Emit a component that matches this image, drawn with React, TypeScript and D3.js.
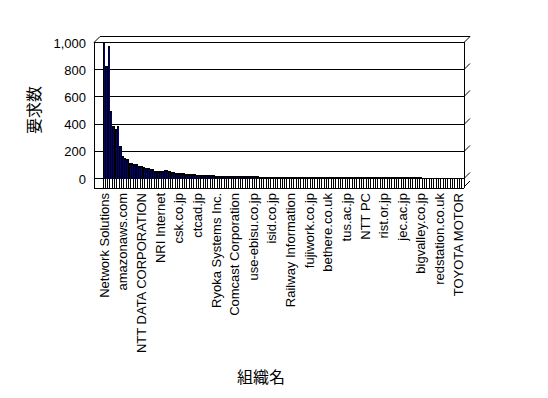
import { useEffect, useRef } from "react";
import * as d3 from "d3";

// organisation names that are printed (every 8th bar)
const orgLabels = [
    "Network Solutions", "amazonaws.com", "NTT DATA CORPORATION", "NRI Internet",
    "csk.co.jp", "ctcad.jp", "Ryoka Systems Inc.", "Comcast Corporation",
    "use-ebisu.co.jp", "isid.co.jp", "Railway Information", "fujiwork.co.jp",
    "bethere.co.uk", "tus.ac.jp", "NTT PC", "rist.or.jp", "jec.ac.jp",
    "bigvalley.co.jp", "redstation.co.uk", "TOYOTA MOTOR",
];
const labelEvery = 8;

const yTicks = [0, 200, 400, 600, 800, 1000];

// request counts per organisation
const requests = [
    1000, 820, 970, 490, 385, 360, 385, 235, 162, 150, 137,
    110, 108, 106, 104, 90, 87, 80, 77, 70, 68, 66,
    55, 53, 51, 49, 58, 56, 50,
    42, 41, 40, 39, 38, 37,
    32, 30, 29, 28, 27, 25,
    24, 24, 23, 22,
    20, 20, 19, 18,
    17, 16, 16, 15,
    14, 14, 14, 13, 13, 13, 13, 13, 12, 12, 12, 12, 12, 12, 11, 11, 11, 11, 11, 11, 11, 11,
    10, 10, 10, 10, 10, 10, 10,
    7, 7, 7, 7, 6, 6, 6, 6, 6, 6, 6, 6, 6, 6,
    5, 5, 5, 5, 5, 5, 5, 5, 5, 5, 5, 5, 5, 5, 5, 5,
    4, 4, 4, 4, 4, 4, 4, 4, 4, 4, 4, 4, 4, 4, 4, 4, 4, 4, 4, 4, 4, 4, 4, 4, 4,
    3, 3, 3, 3, 3, 3, 3, 3, 3, 3, 3, 3, 3, 3, 3, 3, 3, 3,
];

function App() {
    const svgRef = useRef<SVGSVGElement>(null);
    const width = 548, height = 398;

    useEffect(() => {
        const svg = d3.select(svgRef.current);
        svg.selectAll("*").remove();

        const left = 94, right = 464, top = 42, base = 178, floor = 188, depth = 6;
        const latin = "'Liberation Sans', Arial, sans-serif";
        const cjk = "'Noto Sans CJK JP', sans-serif";

        const x = d3.scaleBand<number>()
            .domain(d3.range(requests.length))
            .range([103, right])
            .padding(0);
        const bw = x.bandwidth();

        const y = d3.scaleLinear().domain([0, 1000]).range([base, top]);

        const frame = svg.append("g")
            .attr("stroke", "#000")
            .attr("fill", "none")
            .attr("shape-rendering", "crispEdges");

        // gridlines + little side stubs going into depth
        yTicks.forEach(t => {
            const gy = Math.round(y(t)) + 0.5;
            frame.append("line").attr("x1", left).attr("x2", right).attr("y1", gy).attr("y2", gy);
            frame.append("line").attr("x1", right).attr("x2", right + depth)
                .attr("y1", gy).attr("y2", gy - depth).attr("shape-rendering", "auto");
        });

        // box edges
        frame.append("line").attr("x1", left + 0.5).attr("x2", left + 0.5).attr("y1", top).attr("y2", floor);
        frame.append("line").attr("x1", right + 0.5).attr("x2", right + 0.5).attr("y1", top).attr("y2", base);
        frame.append("line").attr("x1", left + depth).attr("x2", right + depth)
            .attr("y1", top - depth + 0.5).attr("y2", top - depth + 0.5);
        frame.append("line").attr("x1", left).attr("x2", left + depth)
            .attr("y1", top + 0.5).attr("y2", top - depth + 0.5).attr("shape-rendering", "auto");
        frame.append("line").attr("x1", left).attr("x2", right)
            .attr("y1", floor + 0.5).attr("y2", floor + 0.5);
        frame.append("line").attr("x1", right).attr("x2", right + depth)
            .attr("y1", floor - 1).attr("y2", floor - 1 - depth).attr("shape-rendering", "auto");

        // bars
        const bars = svg.append("g").attr("shape-rendering", "crispEdges");
        bars.selectAll(".bar")
            .data(requests)
            .enter().append("rect")
            .attr("class", "bar")
            .attr("x", (_, i) => x(i)!)
            .attr("y", d => y(d))
            .attr("width", bw)
            .attr("height", d => base + 1 - y(d))
            .attr("fill", "#000");
        bars.selectAll(".front")
            .data(requests)
            .enter().append("rect")
            .attr("class", "front")
            .attr("x", (_, i) => Math.round(x(i)!) + 1)
            .attr("y", d => y(d) + 2)
            .attr("width", 1)
            .attr("height", d => Math.max(0, base - 1 - y(d)))
            .attr("fill", "#000080");

        // category ticks on the floor
        frame.selectAll(".tick")
            .data(d3.range(requests.length + 1))
            .enter().append("line")
            .attr("class", "tick")
            .attr("x1", i => Math.floor(103 + i * bw) + 0.5)
            .attr("x2", i => Math.floor(103 + i * bw) + 0.5)
            .attr("y1", base)
            .attr("y2", floor);

        // y tick labels
        svg.append("g").selectAll("text")
            .data(yTicks)
            .enter().append("text")
            .attr("x", 86)
            .attr("y", t => y(t) + 1)
            .attr("dy", "0.35em")
            .attr("text-anchor", "end")
            .attr("font-family", latin)
            .attr("font-size", 13)
            .text(t => d3.format(",")(t));

        // category labels
        svg.append("g").selectAll("text")
            .data(orgLabels)
            .enter().append("text")
            .attr("transform", (_, i) => `translate(${x(i * labelEvery)! + bw / 2}, 193) rotate(-90)`)
            .attr("dy", "0.35em")
            .attr("text-anchor", "end")
            .attr("font-family", latin)
            .attr("font-size", 13)
            .text(d => d);

        svg.append("text")
            .attr("transform", "translate(34, 110) rotate(-90)")
            .attr("dy", "0.35em")
            .attr("text-anchor", "middle")
            .attr("font-family", cjk)
            .attr("font-size", 16)
            .text("要求数");

        svg.append("text")
            .attr("x", 261)
            .attr("y", 377)
            .attr("dy", "0.35em")
            .attr("text-anchor", "middle")
            .attr("font-family", cjk)
            .attr("font-size", 16)
            .text("組織名");
    }, []);

    return (
        <div style={{ position: "absolute", left: 0, top: 0 }}>
            <svg ref={svgRef} width={width} height={height} style={{ display: "block", background: "#fff" }}></svg>
        </div>
    );
}

export default App;
